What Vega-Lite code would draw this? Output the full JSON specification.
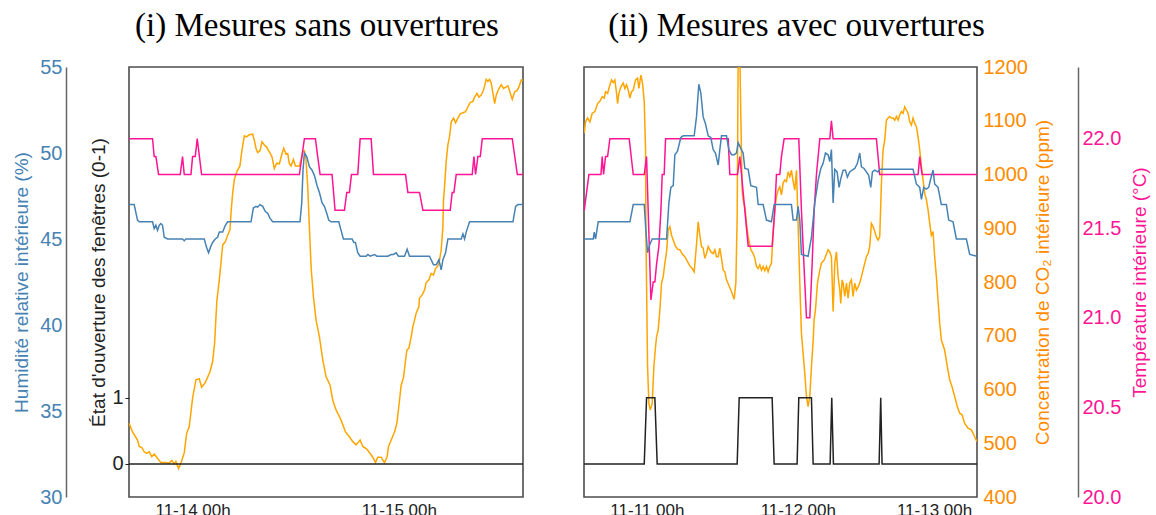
{
  "$schema": "https://vega.github.io/schema/vega-lite/v6.json",
  "padding": {"left": 11, "top": 9, "right": 0, "bottom": 0},
  "background": "white",
  "config": {
    "view": {"stroke": "#4d4d4d", "strokeWidth": 1.6},
    "font": "Liberation Sans",
    "axis": {"grid": false, "domain": false, "ticks": false, "labelFont": "Liberation Sans", "titleFont": "Liberation Sans", "titleFontWeight": "normal", "labelFontSize": 20, "titleFontSize": 19},
    "title": {"font": "Liberation Serif", "fontSize": 33, "fontWeight": "normal", "color": "#000", "baseline": "alphabetic", "offset": 14, "frame": "group"}
  },
  "datasets": {
    "left_co2": [
      {"hour":16.62,"value":537},{"hour":17.01,"value":521},{"hour":17.59,"value":506},{"hour":17.79,"value":494},{"hour":18.10,"value":492},{"hour":18.37,"value":484},{"hour":18.64,"value":481},{"hour":18.95,"value":484},{"hour":19.26,"value":475},{"hour":19.53,"value":480},{"hour":19.92,"value":472},{"hour":20.31,"value":464},{"hour":20.89,"value":464},{"hour":21.28,"value":463},{"hour":21.59,"value":468},{"hour":21.86,"value":461},{"hour":22.06,"value":466},{"hour":22.37,"value":453},{"hour":22.64,"value":463},{"hour":23.03,"value":482},{"hour":23.30,"value":518},{"hour":23.61,"value":531},{"hour":24.00,"value":584},{"hour":24.39,"value":618},{"hour":24.78,"value":620},{"hour":25.05,"value":604},{"hour":25.48,"value":613},{"hour":26.02,"value":633},{"hour":26.33,"value":652},{"hour":26.56,"value":686},{"hour":26.72,"value":735},{"hour":26.83,"value":766},{"hour":27.11,"value":804},{"hour":27.30,"value":835},{"hour":27.50,"value":869},{"hour":27.81,"value":875},{"hour":28.08,"value":887},{"hour":28.35,"value":897},{"hour":28.47,"value":928},{"hour":28.66,"value":965},{"hour":28.85,"value":990},{"hour":29.13,"value":1005},{"hour":29.51,"value":1016},{"hour":29.75,"value":1046},{"hour":30.02,"value":1072},{"hour":30.29,"value":1070},{"hour":30.60,"value":1074},{"hour":30.99,"value":1075},{"hour":31.18,"value":1064},{"hour":31.38,"value":1049},{"hour":31.57,"value":1041},{"hour":31.84,"value":1044},{"hour":32.08,"value":1061},{"hour":32.35,"value":1055},{"hour":32.62,"value":1051},{"hour":32.93,"value":1042},{"hour":33.24,"value":1033},{"hour":33.51,"value":1011},{"hour":33.79,"value":1021},{"hour":34.10,"value":1020},{"hour":34.41,"value":1039},{"hour":34.60,"value":1049},{"hour":34.87,"value":1038},{"hour":35.07,"value":1039},{"hour":35.26,"value":1020},{"hour":35.46,"value":1016},{"hour":35.73,"value":1028},{"hour":35.96,"value":1016},{"hour":36.43,"value":1016},{"hour":36.62,"value":1027},{"hour":36.82,"value":1042},{"hour":37.01,"value":1044},{"hour":37.20,"value":1027},{"hour":37.40,"value":977},{"hour":37.59,"value":903},{"hour":37.79,"value":828},{"hour":38.06,"value":773},{"hour":38.37,"value":729},{"hour":38.76,"value":698},{"hour":39.15,"value":655},{"hour":39.53,"value":624},{"hour":40.00,"value":608},{"hour":40.31,"value":580},{"hour":40.70,"value":562},{"hour":41.28,"value":543},{"hour":41.79,"value":521},{"hour":42.25,"value":512},{"hour":42.64,"value":503},{"hour":43.03,"value":497},{"hour":43.34,"value":503},{"hour":43.50,"value":506},{"hour":43.81,"value":494},{"hour":44.27,"value":489},{"hour":44.66,"value":481},{"hour":44.97,"value":474},{"hour":45.28,"value":464},{"hour":45.55,"value":474},{"hour":45.94,"value":474},{"hour":46.33,"value":464},{"hour":46.64,"value":475},{"hour":46.80,"value":494},{"hour":47.11,"value":506},{"hour":47.50,"value":521},{"hour":47.77,"value":537},{"hour":48.08,"value":580},{"hour":48.27,"value":608},{"hour":48.54,"value":622},{"hour":48.93,"value":673},{"hour":49.17,"value":677},{"hour":49.44,"value":698},{"hour":49.63,"value":717},{"hour":49.83,"value":729},{"hour":50.02,"value":742},{"hour":50.33,"value":754},{"hour":50.41,"value":770},{"hour":50.72,"value":776},{"hour":50.99,"value":785},{"hour":51.18,"value":799},{"hour":51.50,"value":804},{"hour":51.77,"value":816},{"hour":52.04,"value":813},{"hour":52.27,"value":825},{"hour":52.54,"value":830},{"hour":52.74,"value":841},{"hour":52.93,"value":860},{"hour":53.13,"value":903},{"hour":53.20,"value":953},{"hour":53.32,"value":977},{"hour":53.51,"value":1024},{"hour":53.71,"value":1055},{"hour":53.90,"value":1070},{"hour":54.10,"value":1098},{"hour":54.37,"value":1105},{"hour":54.60,"value":1096},{"hour":54.87,"value":1105},{"hour":55.15,"value":1113},{"hour":55.46,"value":1115},{"hour":55.77,"value":1117},{"hour":56.04,"value":1126},{"hour":56.31,"value":1134},{"hour":56.62,"value":1136},{"hour":56.82,"value":1144},{"hour":57.09,"value":1151},{"hour":57.32,"value":1144},{"hour":57.59,"value":1148},{"hour":57.86,"value":1157},{"hour":58.17,"value":1177},{"hour":58.37,"value":1173},{"hour":58.56,"value":1177},{"hour":58.76,"value":1170},{"hour":58.95,"value":1151},{"hour":59.15,"value":1132},{"hour":59.34,"value":1148},{"hour":59.65,"value":1160},{"hour":59.92,"value":1167},{"hour":60.19,"value":1160},{"hour":60.50,"value":1163},{"hour":60.70,"value":1165},{"hour":60.97,"value":1151},{"hour":61.20,"value":1140},{"hour":61.48,"value":1154},{"hour":61.75,"value":1156},{"hour":61.98,"value":1163},{"hour":62.25,"value":1176},{"hour":62.45,"value":1175}
    ],
    "left_temp": [
      {"hour":16.62,"value":22.0},{"hour":19.34,"value":22.0},{"hour":19.53,"value":21.9},{"hour":19.73,"value":21.9},{"hour":20.04,"value":21.8},{"hour":22.56,"value":21.8},{"hour":22.83,"value":21.9},{"hour":23.03,"value":21.8},{"hour":23.81,"value":21.8},{"hour":24.0,"value":21.9},{"hour":24.31,"value":21.9},{"hour":24.54,"value":22.0},{"hour":25.05,"value":21.8},{"hour":36.43,"value":21.8},{"hour":37.01,"value":22.0},{"hour":38.29,"value":22.0},{"hour":38.56,"value":21.9},{"hour":38.84,"value":21.8},{"hour":40.23,"value":21.8},{"hour":40.58,"value":21.6},{"hour":41.67,"value":21.6},{"hour":41.94,"value":21.7},{"hour":42.25,"value":21.7},{"hour":42.49,"value":21.8},{"hour":43.22,"value":21.8},{"hour":43.5,"value":22.0},{"hour":44.78,"value":22.0},{"hour":45.05,"value":21.8},{"hour":48.78,"value":21.8},{"hour":49.05,"value":21.7},{"hour":50.41,"value":21.7},{"hour":50.8,"value":21.6},{"hour":53.98,"value":21.6},{"hour":54.21,"value":21.7},{"hour":54.41,"value":21.7},{"hour":54.68,"value":21.8},{"hour":56.54,"value":21.8},{"hour":56.74,"value":21.9},{"hour":56.93,"value":21.8},{"hour":57.2,"value":21.9},{"hour":57.48,"value":21.9},{"hour":57.71,"value":22.0},{"hour":61.2,"value":22.0},{"hour":61.79,"value":21.8},{"hour":62.45,"value":21.8}
    ],
    "left_hum": [
      {"hour":16.62,"value":47.0},{"hour":17.20,"value":47.0},{"hour":17.59,"value":46.1},{"hour":17.79,"value":46.0},{"hour":19.34,"value":46.0},{"hour":19.53,"value":45.6},{"hour":19.73,"value":45.8},{"hour":19.92,"value":45.5},{"hour":20.12,"value":45.8},{"hour":20.31,"value":45.9},{"hour":20.50,"value":45.8},{"hour":20.70,"value":45.1},{"hour":21.09,"value":45.0},{"hour":22.83,"value":45.0},{"hour":23.03,"value":44.9},{"hour":23.22,"value":45.0},{"hour":25.36,"value":45.0},{"hour":25.63,"value":44.5},{"hour":25.86,"value":44.2},{"hour":26.14,"value":44.6},{"hour":26.33,"value":44.8},{"hour":26.64,"value":45.0},{"hour":26.91,"value":45.1},{"hour":27.11,"value":45.4},{"hour":27.50,"value":45.4},{"hour":27.81,"value":45.8},{"hour":28.08,"value":46.0},{"hour":30.80,"value":46.0},{"hour":31.07,"value":46.8},{"hour":31.38,"value":46.9},{"hour":31.57,"value":46.85},{"hour":31.84,"value":47.0},{"hour":32.16,"value":46.9},{"hour":32.47,"value":46.6},{"hour":32.74,"value":46.5},{"hour":33.01,"value":46.2},{"hour":33.32,"value":46.0},{"hour":36.50,"value":46.0},{"hour":36.70,"value":47.1},{"hour":36.85,"value":49.0},{"hour":37.01,"value":50.0},{"hour":37.28,"value":49.8},{"hour":37.59,"value":49.2},{"hour":37.90,"value":49.0},{"hour":38.17,"value":48.7},{"hour":38.49,"value":48.1},{"hour":38.76,"value":47.7},{"hour":39.07,"value":47.1},{"hour":39.34,"value":46.9},{"hour":39.61,"value":46.5},{"hour":39.84,"value":46.1},{"hour":40.12,"value":46.0},{"hour":41.01,"value":46.0},{"hour":41.28,"value":45.5},{"hour":41.55,"value":45.0},{"hour":42.56,"value":45.0},{"hour":42.76,"value":44.8},{"hour":42.95,"value":44.8},{"hour":43.22,"value":44.2},{"hour":43.50,"value":44.0},{"hour":44.19,"value":44.0},{"hour":44.39,"value":44.1},{"hour":44.66,"value":44.0},{"hour":45.17,"value":44.1},{"hour":45.44,"value":44.0},{"hour":46.72,"value":44.0},{"hour":47.11,"value":44.1},{"hour":47.38,"value":44.1},{"hour":47.69,"value":44.2},{"hour":47.96,"value":44.0},{"hour":48.66,"value":44.0},{"hour":48.97,"value":44.4},{"hour":49.24,"value":44.0},{"hour":51.57,"value":44.0},{"hour":52.04,"value":43.5},{"hour":52.35,"value":43.5},{"hour":52.66,"value":43.8},{"hour":52.93,"value":43.2},{"hour":53.13,"value":43.8},{"hour":53.44,"value":44.2},{"hour":53.71,"value":45.0},{"hour":55.26,"value":45.0},{"hour":55.46,"value":45.3},{"hour":55.65,"value":45.0},{"hour":55.84,"value":45.4},{"hour":56.23,"value":46.0},{"hour":61.28,"value":46.0},{"hour":61.59,"value":46.9},{"hour":61.86,"value":47.0},{"hour":62.45,"value":47.0}
    ],
    "left_win": [
      {"hour":16.6,"value":0},{"hour":62.45,"value":0}
    ],
    "right_co2": [
      {"hour":14.04,"value":1077},{"hour":14.25,"value":1098},{"hour":14.57,"value":1105},{"hour":14.94,"value":1098},{"hour":15.31,"value":1114},{"hour":15.74,"value":1117},{"hour":16.16,"value":1132},{"hour":16.53,"value":1136},{"hour":16.90,"value":1145},{"hour":17.22,"value":1142},{"hour":17.43,"value":1154},{"hour":17.75,"value":1151},{"hour":18.12,"value":1167},{"hour":18.38,"value":1176},{"hour":18.65,"value":1171},{"hour":18.91,"value":1176},{"hour":19.18,"value":1151},{"hour":19.34,"value":1132},{"hour":19.55,"value":1151},{"hour":19.87,"value":1163},{"hour":20.24,"value":1170},{"hour":20.50,"value":1160},{"hour":20.77,"value":1167},{"hour":21.03,"value":1157},{"hour":21.30,"value":1142},{"hour":21.56,"value":1154},{"hour":21.83,"value":1157},{"hour":22.20,"value":1176},{"hour":22.52,"value":1179},{"hour":22.73,"value":1160},{"hour":23.05,"value":1185},{"hour":23.31,"value":1170},{"hour":23.58,"value":1136},{"hour":23.79,"value":1046},{"hour":23.84,"value":900},{"hour":24.11,"value":642},{"hour":24.32,"value":574},{"hour":24.53,"value":562},{"hour":24.85,"value":574},{"hour":25.11,"value":642},{"hour":25.38,"value":680},{"hour":25.54,"value":698},{"hour":25.80,"value":711},{"hour":26.07,"value":748},{"hour":26.33,"value":798},{"hour":26.60,"value":810},{"hour":26.86,"value":835},{"hour":27.13,"value":856},{"hour":27.39,"value":897},{"hour":27.66,"value":903},{"hour":27.92,"value":887},{"hour":28.19,"value":878},{"hour":28.45,"value":869},{"hour":28.87,"value":861},{"hour":29.25,"value":860},{"hour":29.62,"value":852},{"hour":30.04,"value":847},{"hour":30.46,"value":838},{"hour":30.83,"value":830},{"hour":31.21,"value":825},{"hour":31.52,"value":819},{"hour":31.89,"value":869},{"hour":32.16,"value":912},{"hour":32.42,"value":887},{"hour":32.69,"value":866},{"hour":32.95,"value":863},{"hour":33.22,"value":844},{"hour":33.48,"value":853},{"hour":33.75,"value":866},{"hour":34.17,"value":856},{"hour":34.54,"value":853},{"hour":34.81,"value":860},{"hour":35.07,"value":847},{"hour":35.34,"value":847},{"hour":35.60,"value":863},{"hour":35.87,"value":844},{"hour":36.13,"value":822},{"hour":36.40,"value":819},{"hour":36.66,"value":804},{"hour":37.03,"value":794},{"hour":37.46,"value":782},{"hour":37.88,"value":768},{"hour":38.15,"value":798},{"hour":38.36,"value":922},{"hour":38.46,"value":1108},{"hour":38.52,"value":1230},{"hour":38.78,"value":1230},{"hour":38.94,"value":1108},{"hour":39.15,"value":971},{"hour":39.31,"value":953},{"hour":39.58,"value":940},{"hour":39.84,"value":909},{"hour":40.11,"value":884},{"hour":40.53,"value":860},{"hour":40.90,"value":853},{"hour":41.17,"value":844},{"hour":41.43,"value":829},{"hour":41.70,"value":825},{"hour":41.96,"value":832},{"hour":42.23,"value":822},{"hour":42.49,"value":829},{"hour":42.75,"value":821},{"hour":43.02,"value":829},{"hour":43.28,"value":819},{"hour":43.55,"value":829},{"hour":43.81,"value":835},{"hour":44.08,"value":891},{"hour":44.34,"value":934},{"hour":44.61,"value":959},{"hour":44.87,"value":971},{"hour":45.14,"value":977},{"hour":45.40,"value":962},{"hour":45.67,"value":984},{"hour":45.93,"value":990},{"hour":46.20,"value":987},{"hour":46.46,"value":1005},{"hour":46.73,"value":996},{"hour":46.99,"value":1008},{"hour":47.26,"value":987},{"hour":47.52,"value":971},{"hour":47.79,"value":1008},{"hour":48.05,"value":909},{"hour":48.32,"value":798},{"hour":48.58,"value":705},{"hour":49.11,"value":630},{"hour":49.38,"value":587},{"hour":49.64,"value":568},{"hour":49.91,"value":587},{"hour":50.17,"value":642},{"hour":50.44,"value":690},{"hour":50.60,"value":730},{"hour":50.81,"value":748},{"hour":51.13,"value":798},{"hour":51.50,"value":822},{"hour":51.76,"value":835},{"hour":52.19,"value":841},{"hour":52.56,"value":852},{"hour":52.82,"value":860},{"hour":53.09,"value":856},{"hour":53.35,"value":847},{"hour":53.62,"value":745},{"hour":53.88,"value":835},{"hour":54.15,"value":856},{"hour":54.41,"value":810},{"hour":54.68,"value":785},{"hour":54.83,"value":760},{"hour":55.05,"value":804},{"hour":55.21,"value":798},{"hour":55.47,"value":773},{"hour":55.74,"value":798},{"hour":56.00,"value":770},{"hour":56.26,"value":798},{"hour":56.53,"value":804},{"hour":56.79,"value":773},{"hour":57.06,"value":798},{"hour":57.32,"value":785},{"hour":57.59,"value":791},{"hour":57.85,"value":798},{"hour":58.12,"value":810},{"hour":58.38,"value":822},{"hour":58.65,"value":835},{"hour":58.91,"value":847},{"hour":59.18,"value":853},{"hour":59.44,"value":866},{"hour":59.71,"value":909},{"hour":59.97,"value":903},{"hour":60.24,"value":894},{"hour":60.50,"value":884},{"hour":60.77,"value":878},{"hour":61.03,"value":884},{"hour":61.30,"value":984},{"hour":61.56,"value":1046},{"hour":61.83,"value":1064},{"hour":62.09,"value":1101},{"hour":62.36,"value":1105},{"hour":62.62,"value":1108},{"hour":62.89,"value":1105},{"hour":63.15,"value":1105},{"hour":63.42,"value":1101},{"hour":63.68,"value":1108},{"hour":63.95,"value":1101},{"hour":64.21,"value":1111},{"hour":64.48,"value":1117},{"hour":64.74,"value":1114},{"hour":65.01,"value":1126},{"hour":65.27,"value":1120},{"hour":65.54,"value":1114},{"hour":65.80,"value":1098},{"hour":66.07,"value":1092},{"hour":66.33,"value":1105},{"hour":66.60,"value":1095},{"hour":66.86,"value":1089},{"hour":67.13,"value":1070},{"hour":67.39,"value":1046},{"hour":67.66,"value":1015},{"hour":67.92,"value":990},{"hour":68.19,"value":965},{"hour":68.45,"value":953},{"hour":68.72,"value":934},{"hour":68.98,"value":909},{"hour":69.24,"value":887},{"hour":69.51,"value":894},{"hour":69.77,"value":847},{"hour":70.04,"value":810},{"hour":70.30,"value":767},{"hour":70.57,"value":723},{"hour":70.83,"value":692},{"hour":71.36,"value":673},{"hour":71.79,"value":642},{"hour":72.16,"value":618},{"hour":72.53,"value":605},{"hour":72.95,"value":587},{"hour":73.38,"value":568},{"hour":73.75,"value":556},{"hour":74.12,"value":553},{"hour":74.54,"value":537},{"hour":75.07,"value":528},{"hour":75.60,"value":525},{"hour":76.13,"value":512},{"hour":76.50,"value":503}
    ],
    "right_temp": [
      {"hour":14.04,"value":21.6},{"hour":14.41,"value":21.7},{"hour":14.78,"value":21.8},{"hour":16.69,"value":21.8},{"hour":16.90,"value":21.9},{"hour":17.11,"value":21.8},{"hour":17.43,"value":21.9},{"hour":17.75,"value":21.9},{"hour":18.12,"value":22.0},{"hour":21.19,"value":22.0},{"hour":21.83,"value":21.8},{"hour":23.58,"value":21.8},{"hour":23.95,"value":21.9},{"hour":24.64,"value":21.1},{"hour":25.01,"value":21.2},{"hour":25.27,"value":21.2},{"hour":25.54,"value":21.3},{"hour":25.91,"value":21.4},{"hour":26.23,"value":21.6},{"hour":26.44,"value":21.8},{"hour":26.75,"value":21.8},{"hour":26.97,"value":22.0},{"hour":36.93,"value":22.0},{"hour":37.19,"value":21.8},{"hour":38.41,"value":21.8},{"hour":38.78,"value":21.9},{"hour":39.05,"value":21.8},{"hour":39.58,"value":21.6},{"hour":40.11,"value":21.4},{"hour":43.92,"value":21.4},{"hour":44.34,"value":21.6},{"hour":44.61,"value":21.8},{"hour":45.14,"value":21.8},{"hour":45.40,"value":21.9},{"hour":45.83,"value":22.0},{"hour":48.16,"value":22.0},{"hour":48.58,"value":21.6},{"hour":49.11,"value":21.2},{"hour":49.38,"value":21.0},{"hour":49.91,"value":21.0},{"hour":50.28,"value":21.3},{"hour":50.60,"value":21.6},{"hour":50.97,"value":21.8},{"hour":51.50,"value":22.0},{"hour":53.09,"value":22.0},{"hour":53.35,"value":22.1},{"hour":53.62,"value":22.0},{"hour":60.50,"value":22.0},{"hour":61.03,"value":21.8},{"hour":67.13,"value":21.8},{"hour":67.39,"value":21.9},{"hour":67.76,"value":21.8},{"hour":76.50,"value":21.8}
    ],
    "right_hum": [
      {"hour":14.04,"value":45.0},{"hour":15.47,"value":45.0},{"hour":15.63,"value":45.4},{"hour":15.84,"value":45.0},{"hour":16.26,"value":46.0},{"hour":21.30,"value":46.0},{"hour":21.83,"value":47.0},{"hour":23.58,"value":47.0},{"hour":23.84,"value":45.5},{"hour":24.11,"value":44.2},{"hour":24.48,"value":44.7},{"hour":24.85,"value":45.0},{"hour":27.13,"value":45.0},{"hour":27.50,"value":47.1},{"hour":27.81,"value":48.0},{"hour":28.19,"value":48.1},{"hour":28.45,"value":49.9},{"hour":28.87,"value":50.1},{"hour":29.40,"value":50.9},{"hour":29.77,"value":51.0},{"hour":31.52,"value":51.0},{"hour":31.89,"value":52.1},{"hour":32.26,"value":54.0},{"hour":32.58,"value":53.5},{"hour":32.95,"value":52.1},{"hour":33.32,"value":51.7},{"hour":33.75,"value":51.0},{"hour":34.17,"value":50.9},{"hour":34.54,"value":50.2},{"hour":34.91,"value":50.0},{"hour":35.34,"value":49.3},{"hour":35.60,"value":50.2},{"hour":35.87,"value":51.0},{"hour":36.66,"value":51.0},{"hour":37.03,"value":50.2},{"hour":37.46,"value":49.9},{"hour":37.88,"value":49.9},{"hour":38.25,"value":50.0},{"hour":38.52,"value":50.6},{"hour":38.89,"value":50.3},{"hour":39.31,"value":50.0},{"hour":39.58,"value":49.1},{"hour":40.11,"value":49.05},{"hour":40.53,"value":48.1},{"hour":41.43,"value":48.0},{"hour":41.70,"value":47.0},{"hour":42.49,"value":47.0},{"hour":43.02,"value":46.1},{"hour":43.81,"value":46.0},{"hour":44.24,"value":47.0},{"hour":46.99,"value":47.0},{"hour":47.26,"value":46.1},{"hour":47.79,"value":46.1},{"hour":48.05,"value":46.9},{"hour":48.32,"value":46.1},{"hour":48.58,"value":44.1},{"hour":49.64,"value":44.0},{"hour":50.17,"value":45.1},{"hour":50.70,"value":47.1},{"hour":51.23,"value":48.4},{"hour":51.66,"value":49.1},{"hour":52.03,"value":49.4},{"hour":52.40,"value":50.0},{"hour":52.82,"value":49.9},{"hour":53.09,"value":49.5},{"hour":53.35,"value":50.2},{"hour":53.62,"value":47.1},{"hour":53.88,"value":49.05},{"hour":54.25,"value":48.9},{"hour":54.57,"value":48.0},{"hour":54.83,"value":48.5},{"hour":55.21,"value":49.0},{"hour":55.58,"value":49.0},{"hour":55.89,"value":48.6},{"hour":56.26,"value":48.9},{"hour":56.64,"value":49.0},{"hour":57.06,"value":49.1},{"hour":57.48,"value":49.4},{"hour":57.85,"value":50.0},{"hour":58.12,"value":49.2},{"hour":58.54,"value":49.1},{"hour":58.91,"value":48.9},{"hour":59.28,"value":48.7},{"hour":59.60,"value":48.0},{"hour":59.87,"value":48.9},{"hour":60.24,"value":49.0},{"hour":60.77,"value":48.9},{"hour":61.03,"value":49.05},{"hour":66.33,"value":49.05},{"hour":66.86,"value":48.2},{"hour":67.39,"value":48.0},{"hour":67.66,"value":47.3},{"hour":68.03,"value":48.0},{"hour":68.45,"value":47.9},{"hour":68.82,"value":48.0},{"hour":69.14,"value":48.5},{"hour":69.51,"value":49.0},{"hour":69.77,"value":48.2},{"hour":70.30,"value":48.0},{"hour":70.83,"value":47.0},{"hour":71.63,"value":47.0},{"hour":72.00,"value":46.1},{"hour":72.69,"value":46.0},{"hour":73.22,"value":45.0},{"hour":74.81,"value":45.0},{"hour":75.34,"value":44.1},{"hour":76.50,"value":44.0}
    ],
    "right_win": [
      {"hour":14.0,"value":0},{"hour":23.58,"value":0},{"hour":23.95,"value":1},{"hour":25.27,"value":1},{"hour":25.64,"value":0},{"hour":38.36,"value":0},{"hour":38.68,"value":1},{"hour":43.92,"value":1},{"hour":44.24,"value":0},{"hour":47.89,"value":0},{"hour":48.16,"value":1},{"hour":50.17,"value":1},{"hour":50.44,"value":0},{"hour":53.14,"value":0},{"hour":53.40,"value":1},{"hour":53.67,"value":0},{"hour":60.93,"value":0},{"hour":61.19,"value":1},{"hour":61.40,"value":0},{"hour":76.5,"value":0}
    ]
  },
  "spacing": 53,
  "hconcat": [
    {
      "title": {"text": "(i) Mesures sans ouvertures", "dx": -9},
      "width": 394,
      "height": 430,
      "encoding": {
        "x": {"field": "hour", "type": "quantitative", "scale": {"domain": [16.6, 62.45], "nice": false, "zero": false},
              "axis": {"values": [24, 48], "labelExpr": "'11-' + (13 + datum.value / 24) + ' 00h'", "labelFontSize": 17, "labelColor": "#222", "labelPadding": 5, "title": null, "labelFlush": false}}
      },
      "layer": [
        {"data": {"name": "left_co2"}, "mark": {"type": "line", "color": "#FFA500", "strokeWidth": 1.5},
         "encoding": {"y": {"field": "value", "type": "quantitative", "scale": {"domain": [400, 1200], "nice": false, "zero": false}, "axis": null}}},
        {"data": {"name": "left_temp"}, "mark": {"type": "line", "color": "#FF1493", "strokeWidth": 1.5},
         "encoding": {"y": {"field": "value", "type": "quantitative", "scale": {"domain": [20, 22.4], "nice": false, "zero": false}, "axis": null}}},
        {"data": {"name": "left_hum"}, "mark": {"type": "line", "color": "#4682B4", "strokeWidth": 1.5},
         "encoding": {"y": {"field": "value", "type": "quantitative", "scale": {"domain": [30, 55], "nice": false, "zero": false},
           "axis": {"orient": "left", "offset": 63, "values": [30, 35, 40, 45, 50, 55], "domain": true, "domainColor": "#666", "domainWidth": 1.5, "labelColor": "#4682B4", "labelPadding": 4, "title": "Humidité relative intérieure (%)", "titleColor": "#4682B4", "titlePadding": 8}}}},
        {"data": {"name": "left_win"}, "mark": {"type": "line", "color": "#222", "strokeWidth": 1.5},
         "encoding": {"y": {"field": "value", "type": "quantitative", "scale": {"domain": [-0.5, 6], "nice": false, "zero": false},
           "axis": {"orient": "left", "offset": 0, "values": [0, 1], "ticks": true, "tickSize": 4, "tickColor": "#222", "labelColor": "#222", "labelPadding": 2, "title": "État d'ouverture des fenêtres (0-1)", "titleColor": "#222", "titlePadding": 3}}}}
      ],
      "resolve": {"scale": {"y": "independent"}}
    },
    {
      "title": {"text": "(ii) Mesures avec ouvertures", "dx": 16},
      "width": 393,
      "height": 430,
      "encoding": {
        "x": {"field": "hour", "type": "quantitative", "scale": {"domain": [14, 76.5], "nice": false, "zero": false},
              "axis": {"values": [24, 48, 72], "labelExpr": "'11-' + (10 + datum.value / 24) + ' 00h'", "labelFontSize": 17, "labelColor": "#222", "labelPadding": 5, "title": null, "labelFlush": 35, "labelFlushOffset": 23}}
      },
      "layer": [
        {"data": {"name": "right_co2"}, "mark": {"type": "line", "color": "#FFA500", "strokeWidth": 1.5, "clip": true},
         "encoding": {"y": {"field": "value", "type": "quantitative", "scale": {"domain": [400, 1200], "nice": false, "zero": false},
           "axis": {"orient": "right", "offset": 0, "values": [400, 500, 600, 700, 800, 900, 1000, 1100, 1200], "format": "d", "labelColor": "#FF8C00", "labelPadding": 6, "title": "Concentration de CO₂ intérieure (ppm)", "titleColor": "#FF8C00", "titleAngle": 270, "titleBaseline": "top", "titlePadding": 6}}}},
        {"data": {"name": "right_temp"}, "mark": {"type": "line", "color": "#FF1493", "strokeWidth": 1.5},
         "encoding": {"y": {"field": "value", "type": "quantitative", "scale": {"domain": [20, 22.4], "nice": false, "zero": false},
           "axis": {"orient": "right", "offset": 101, "values": [20, 20.5, 21, 21.5, 22], "format": ".1f", "domain": true, "domainColor": "#666", "domainWidth": 1.5, "labelColor": "#FF1493", "labelPadding": 4, "title": "Température intérieure (°C)", "titleColor": "#FF1493", "titleAngle": 270, "titleBaseline": "top", "titlePadding": 10}}}},
        {"data": {"name": "right_hum"}, "mark": {"type": "line", "color": "#4682B4", "strokeWidth": 1.5},
         "encoding": {"y": {"field": "value", "type": "quantitative", "scale": {"domain": [30, 55], "nice": false, "zero": false}, "axis": null}}},
        {"data": {"name": "right_win"}, "mark": {"type": "line", "color": "#222", "strokeWidth": 1.5},
         "encoding": {"y": {"field": "value", "type": "quantitative", "scale": {"domain": [-0.5, 6], "nice": false, "zero": false}, "axis": null}}}
      ],
      "resolve": {"scale": {"y": "independent"}}
    }
  ]
}
